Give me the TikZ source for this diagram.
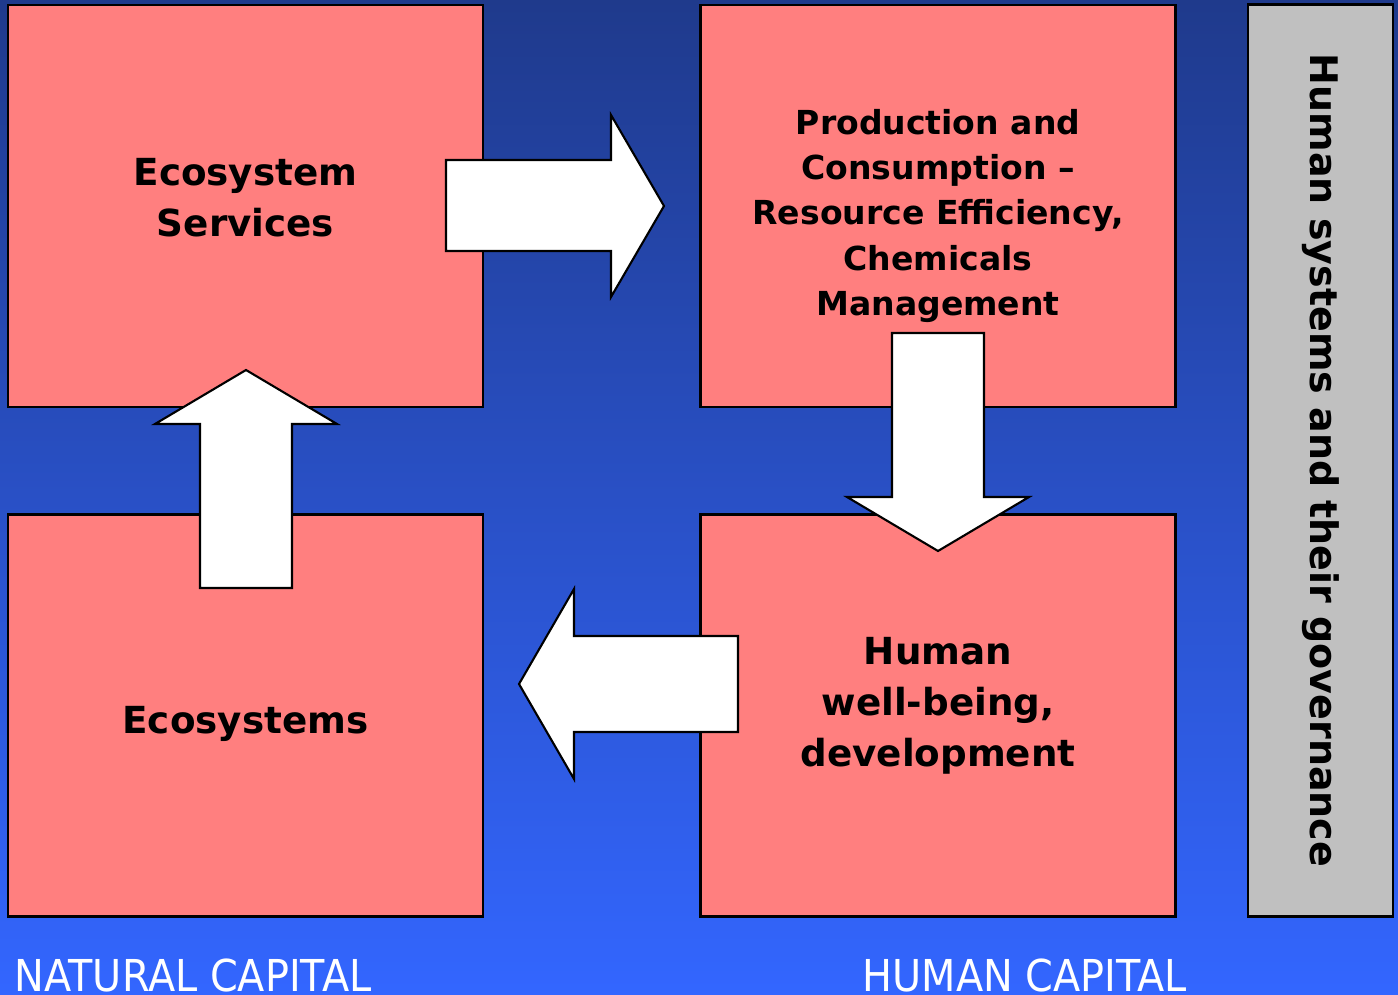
\documentclass[tikz,border=0pt]{standalone}
\usepackage{fontspec}
\setmainfont{DejaVu Sans}
\definecolor{navytop}{RGB}{31,58,140}
\definecolor{bluebottom}{RGB}{51,102,255}
\definecolor{salmon}{RGB}{255,127,127}
\definecolor{bargrey}{RGB}{192,192,192}
\begin{document}
\begin{tikzpicture}[x=0.01cm, y=-0.01cm,
    capital/.style ={rectangle, draw, line width=0.7pt, fill=salmon, minimum width=4.75cm, minimum height=4.02cm},
    capitaltext/.style ={align=center, font=\bfseries\fontsize{10.6}{14.5}\selectfont},
    flow/.style ={draw, line width=0.6pt, fill=white, line join=miter},
    caption/.style ={text=white, inner sep=0pt, font=\fontsize{12.5}{14}\selectfont}]
   \useasboundingbox (0,0) rectangle (1398,995);
   \shade[top color=navytop, bottom color=bluebottom] (0,0) rectangle (1398,995);
   % the four boxes
   \node[capital] (services)   at (245.5,206)   {};
   \node[capital] (production) at (938,206)     {};
   \node[capital] (ecosystems) at (245.5,715.5) {};
   \node[capital] (wellbeing)  at (938,715.5)   {};
   \node[capitaltext] at ([yshift=0.08cm]services.center) {Ecosystem\\Services};
   \node[capitaltext, font=\bfseries\fontsize{9.4}{12.8}\selectfont] at ([yshift=-0.1cm]production.center)
       {Production and\\Consumption –\\Resource Efficiency,\\Chemicals\\Management};
   \node[capitaltext] at ([yshift=-0.08cm]ecosystems.center) {Ecosystems};
   \node[capitaltext] at ([yshift=0.1cm]wellbeing.center) {Human\\well-being,\\development};
   % governance bar
   \node[rectangle, draw, line width=0.7pt, fill=bargrey, minimum width=1.45cm, minimum height=9.11cm] (governance) at (1320.5,460.5) {};
   \node[rotate=-90, font=\bfseries\fontsize{10.8}{13}\selectfont] at (governance.center) {Human systems and their governance};
   % flows between the boxes
   \draw[flow] (446,160) -- (611,160) -- (611,115) -- (664,206) -- (611,297) -- (611,251) -- (446,251) -- cycle;
   \draw[flow] (892,333) -- (984,333) -- (984,497) -- (1029,497) -- (938,551) -- (847,497) -- (892,497) -- cycle;
   \draw[flow] (738,636) -- (574,636) -- (574,589) -- (519,684) -- (574,779) -- (574,732) -- (738,732) -- cycle;
   \draw[flow] (200,588) -- (200,424) -- (155,424) -- (246,370) -- (337,424) -- (292,424) -- (292,588) -- cycle;
   % captions
   \node[caption, anchor=base west] (natural) at (14,991) {\scalebox{0.905}[1]{NATURAL CAPITAL}};
   \node[caption, anchor=base west] (human)   at (862,991) {\scalebox{0.905}[1]{HUMAN CAPITAL}};
\end{tikzpicture}
\end{document}
